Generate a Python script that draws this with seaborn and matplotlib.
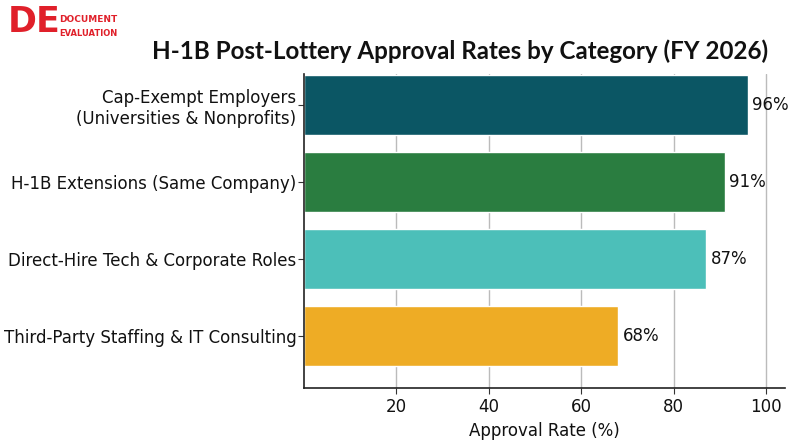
import numpy as np
import pandas as pd
import matplotlib
matplotlib.use("Agg")
import matplotlib.pyplot as plt
import seaborn as sns

# datos
categorias = ["Cap-Exempt Employers\n(Universities & Nonprofits)",
              "H-1B Extensions (Same Company)",
              "Direct-Hire Tech & Corporate Roles",
              "Third-Party Staffing & IT Consulting"]
tasas = [96, 91, 87, 68]
colores = ["#0b5664", "#2a7d40", "#4cbfb9", "#eeac25"]

df = pd.DataFrame({"categoria": categorias, "tasa": tasas})

sns.set_style("white")
plt.rcParams["font.family"] = ["DejaVu Sans"]

fig = plt.figure(figsize=(8, 4.44), dpi=100)
ax = fig.add_axes([0.38, 0.126, 0.601, 0.707])

sns.barplot(data=df, x="tasa", y="categoria", hue="categoria",
            palette=colores, saturation=1, legend=False, width=0.78, ax=ax, zorder=2)

for i, v in enumerate(tasas):
    ax.text(v + 1, i, f"{v}%", va="center", ha="left", fontsize=12,
            color="#111111", family="DejaVu Sans")

ax.set_xlim(0, 104)
ax.set_ylim(3.675, -0.40)
ax.set_xticks([20, 40, 60, 80, 100])
ax.xaxis.grid(True, color="#bbbbbb", linewidth=1, zorder=0)
ax.set_axisbelow(True)
ax.tick_params(axis="x", labelsize=12, length=4, color="#333333", labelcolor="#111111", bottom=True)
ax.tick_params(axis="y", labelsize=12, length=4, pad=1.5, color="#333333", labelcolor="#111111", left=True)
for lbl in ax.get_xticklabels() + ax.get_yticklabels():
    lbl.set_family("DejaVu Sans")
ax.set_xlabel("Approval Rate (%)", fontsize=12, color="#111111", family="DejaVu Sans")
ax.set_ylabel("")
sns.despine(ax=ax)
for s in ["left", "bottom"]:
    ax.spines[s].set_color("#222222")
    ax.spines[s].set_linewidth(1.2)

# titulo
fig.text(0.575, 0.885, "H-1B Post-Lottery Approval Rates by Category (FY 2026)",
         ha="center", va="center", fontsize=17.4, fontweight="bold", color="#111111",
         family="Lato")

# logo
fig.text(0.010, 0.95, "DE", fontsize=25, fontweight="bold", color="#e0202a",
         ha="left", va="center", family="DejaVu Sans")
fig.text(0.074, 0.955, "DOCUMENT", fontsize=6.5, fontweight="bold", color="#e0202a",
         ha="left", va="center", family="DejaVu Sans")
fig.text(0.074, 0.925, "EVALUATION", fontsize=6, fontweight="bold", color="#e0202a",
         ha="left", va="center", family="DejaVu Sans")

fig.savefig("out.png", dpi=100)
